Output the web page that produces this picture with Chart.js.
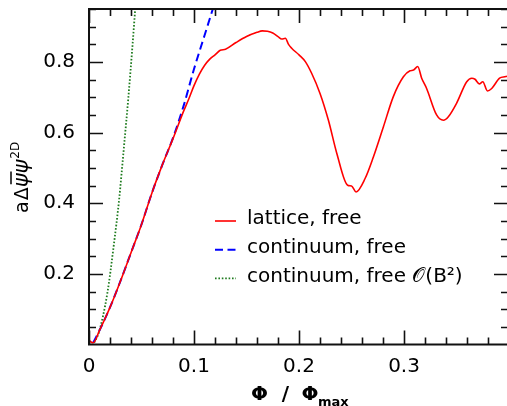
<!DOCTYPE html>
<html>
<head>
<meta charset="utf-8">
<script src="https://cdn.jsdelivr.net/npm/chart.js@4.4.1/dist/chart.umd.min.js"></script>
<style>
    html, body { margin: 0; padding: 0; overflow: hidden; background: #fff; }
    canvas { display: block; }
</style>
</head>
<body>
<canvas id="condChart" width="510" height="406"></canvas>
<script>
// lattice, free (red)
const latticeX = [0, 0.002, 0.004, 0.01, 0.02, 0.03, 0.04, 0.05, 0.06, 0.07, 0.08, 0.09, 0.095, 0.1, 0.105,
    0.11, 0.115, 0.12, 0.125, 0.13, 0.14, 0.15, 0.16, 0.165, 0.17, 0.175, 0.18, 0.1835, 0.187, 0.19,
    0.193, 0.2, 0.206, 0.212, 0.22, 0.228, 0.236, 0.2463, 0.25, 0.2543, 0.2629, 0.2708, 0.2803, 0.2898,
    0.2994, 0.3057, 0.309, 0.313, 0.3168, 0.3215, 0.331, 0.3375, 0.3422, 0.35, 0.3597, 0.3645, 0.3676,
    0.3717, 0.375, 0.3794, 0.3835, 0.391, 0.396, 0.40];
const latticeY = [0.013, 0.007, 0.005, 0.04, 0.105, 0.18, 0.26, 0.34, 0.43, 0.51, 0.583, 0.66, 0.695, 0.733, 0.765,
    0.79, 0.808, 0.82, 0.833, 0.836, 0.855, 0.872, 0.884, 0.888, 0.887, 0.882, 0.872, 0.865, 0.867, 0.85,
    0.839, 0.82, 0.801, 0.768, 0.711, 0.635, 0.541, 0.451, 0.449, 0.432, 0.47, 0.531, 0.616, 0.702,
    0.758, 0.775, 0.777, 0.787, 0.754, 0.725, 0.65, 0.635, 0.645, 0.683, 0.744, 0.754, 0.751,
    0.738, 0.744, 0.718, 0.725, 0.754, 0.758, 0.76];

// continuum, free (blue dashed)
const contX = [0.004, 0.01, 0.02, 0.03, 0.04, 0.05, 0.06, 0.07, 0.08, 0.09, 0.1, 0.11, 0.12];
const contY = [0.005, 0.04, 0.105, 0.18, 0.26, 0.34, 0.43, 0.51, 0.585, 0.675, 0.78, 0.875, 0.97];

// continuum, free O(B^2) (green dotted)
const quadX = [0.005, 0.0095, 0.0174, 0.0238, 0.0286, 0.033, 0.0375, 0.0415, 0.0445];
const quadY = [0.005, 0.035, 0.144, 0.286, 0.408, 0.55, 0.7, 0.85, 0.97];

const seriesLabels = ["lattice, free", "continuum, free", "continuum, free \u{1D4AA}(B\u00B2)"];
const xTicks = [0, 0.1, 0.2, 0.3];
const yTicks = [0.2, 0.4, 0.6, 0.8];

const FONT = "'DejaVu Sans', sans-serif";
const toPoints = (xs, ys) => xs.map((x, i) => ({ x: x, y: ys[i] }));

// frame with inward ticks on all four sides
const framePlugin = {
    id: "frame",
    afterDatasetsDraw(chart) {
        const { ctx, chartArea: a, scales: { x, y } } = chart;
        ctx.save();
        ctx.strokeStyle = "#111";
        ctx.lineWidth = 2;
        ctx.strokeRect(a.left, a.top, a.right - a.left, a.bottom - a.top);
        ctx.lineWidth = 1.6;
        ctx.beginPath();
        for (let i = 0; i * 0.02 <= x.max + 1e-9; i++) {
            const px = Math.round(x.getPixelForValue(i * 0.02)) + 0.5;
            const len = i % 5 === 0 ? 14 : 7;
            ctx.moveTo(px, a.bottom); ctx.lineTo(px, a.bottom - len);
            ctx.moveTo(px, a.top); ctx.lineTo(px, a.top + len);
        }
        for (let i = 1; i * 0.05 <= y.max + 1e-9; i++) {
            const py = Math.round(y.getPixelForValue(i * 0.05)) + 0.5;
            const len = i % 4 === 0 ? 14 : 7;
            ctx.moveTo(a.left, py); ctx.lineTo(a.left + len, py);
            ctx.moveTo(a.right, py); ctx.lineTo(a.right - len, py);
        }
        ctx.stroke();
        ctx.restore();
    }
};

// legend inside the plot and axis titles
const textPlugin = {
    id: "texts",
    afterDraw(chart) {
        const ctx = chart.ctx;
        ctx.save();
        chart.data.datasets.forEach((ds, i) => {
            const yy = 221 + i * 28.7;
            ctx.strokeStyle = ds.borderColor;
            ctx.lineWidth = ds.borderWidth;
            ctx.setLineDash(ds.borderDash || []);
            ctx.beginPath();
            ctx.moveTo(215, yy); ctx.lineTo(236, yy);
            ctx.stroke();
            ctx.setLineDash([]);
            ctx.fillStyle = "#000";
            ctx.font = "20px " + FONT;
            ctx.textBaseline = "middle";
            ctx.textAlign = "left";
            ctx.fillText(ds.label, 247, yy - 2);
        });

        // x title: Φ / Φmax
        ctx.fillStyle = "#000";
        ctx.textBaseline = "alphabetic";
        ctx.textAlign = "center";
        ctx.font = "bold 20px " + FONT;
        ctx.fillText("\u03A6", 259.5, 400);
        ctx.fillText("/", 285.5, 400);
        ctx.fillText("\u03A6", 310, 400);
        ctx.textAlign = "left";
        ctx.font = "bold 13px " + FONT;
        ctx.fillText("max", 318, 406);

        // y title: aΔψ̄ψ^2D
        ctx.translate(28, 172);
        ctx.rotate(-Math.PI / 2);
        let u = -41;
        ctx.textAlign = "left";
        ctx.font = "19px " + FONT;
        ctx.fillText("a", u, 0); u += ctx.measureText("a").width + 1;
        ctx.fillText("\u0394", u, 0); u += ctx.measureText("\u0394").width;
        ctx.font = "italic 21px " + FONT;
        const w = ctx.measureText("\u03C8").width;
        ctx.fillText("\u03C8", u, 0);
        ctx.strokeStyle = "#000";
        ctx.lineWidth = 1.5;
        ctx.beginPath();
        ctx.moveTo(u + 3, -17); ctx.lineTo(u + w + 2, -17);
        ctx.stroke();
        u += w;
        ctx.fillText("\u03C8", u, 0); u += w + 1;
        ctx.font = "12px " + FONT;
        ctx.fillText("2D", u, -9);
        ctx.restore();
    }
};

const ctx = document.getElementById("condChart").getContext("2d");
new Chart(ctx, {
    type: "line",
    data: {
        datasets: [
            {
                label: seriesLabels[0],
                data: toPoints(latticeX, latticeY),
                borderColor: "#ff0000", borderWidth: 1.6,
                pointRadius: 0, cubicInterpolationMode: "monotone", clip: 0
            },
            {
                label: seriesLabels[1],
                data: toPoints(contX, contY),
                borderColor: "#0000ff", borderWidth: 2, borderDash: [8, 4.5],
                pointRadius: 0, cubicInterpolationMode: "monotone", clip: 0
            },
            {
                label: seriesLabels[2],
                data: toPoints(quadX, quadY),
                borderColor: "#1e7b1e", borderWidth: 1.8, borderDash: [1.6, 1.8],
                pointRadius: 0, cubicInterpolationMode: "monotone", clip: 0
            }
        ]
    },
    options: {
        responsive: false, animation: false, devicePixelRatio: 1,
        layout: { padding: { top: 9, right: 2, left: 0, bottom: 0 } },
        plugins: { legend: { display: false }, tooltip: { enabled: false } },
        scales: {
            x: {
                type: "linear", min: 0, max: 0.399,
                afterBuildTicks: (s) => { s.ticks = xTicks.map(v => ({ value: v })); },
                afterFit: (s) => { s.height = 61.5; s.paddingLeft = 0; s.paddingRight = 0; },
                grid: { display: false, drawTicks: false },
                border: { display: false },
                ticks: {
                    color: "#000", font: { family: FONT, size: 20 }, padding: 10, maxRotation: 0,
                    callback: (v) => v === 0 ? "0" : v.toFixed(1)
                }
            },
            y: {
                type: "linear", min: 0, max: 0.95,
                afterBuildTicks: (s) => { s.ticks = yTicks.map(v => ({ value: v })); },
                afterFit: (s) => { s.width = 89; s.paddingTop = 0; s.paddingBottom = 0; },
                grid: { display: false, drawTicks: false },
                border: { display: false },
                ticks: {
                    color: "#000", font: { family: FONT, size: 20 }, padding: 14,
                    callback: (v) => v.toFixed(1)
                }
            }
        }
    },
    plugins: [framePlugin, textPlugin]
});
</script>
</body>
</html>
